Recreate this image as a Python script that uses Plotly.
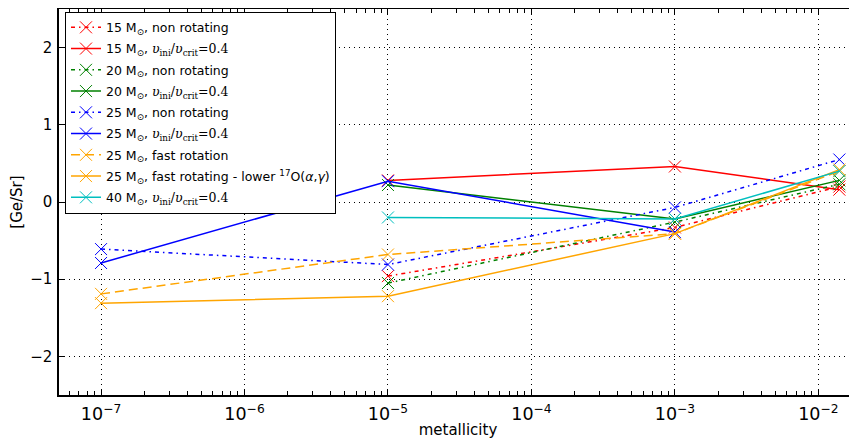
import plotly.graph_objects as go

# metallicities of the model grids
Z_all = [1e-7, 1e-5, 1e-3, 0.014]
Z_hi = [1e-5, 1e-3, 0.014]
Z_rot25 = [1e-7, 1e-5, 1e-3]

# [Ge/Sr] values
m15_nonrot = [-0.96, -0.33, 0.20]
m15_rot = [0.28, 0.46, 0.16]
m20_nonrot = [-1.05, -0.26, 0.23]
m20_rot = [0.22, -0.22, 0.28]
m25_nonrot = [-0.61, -0.81, -0.07, 0.55]
m25_rot = [-0.79, 0.27, -0.39]
m25_fast = [-1.19, -0.68, -0.41, 0.40]
m25_fast_low17O = [-1.31, -1.22, -0.41, 0.42]
m40_rot = [-0.20, -0.22, 0.40]

MS = "M<sub>⊙</sub>"
VV = ("<span style=\"font-family:'DejaVu Serif'\"><i>υ</i><sub>ini</sub>/"
      "<i>υ</i><sub>crit</sub>=0.4</span>")

DASHDOT = "4px,4px,1.5px,4px"
DASHED = "9px,5px"

series = [
    (f"15 {MS}, non rotating", Z_hi, m15_nonrot, "#ff0000", DASHDOT),
    (f"15 {MS}, {VV}", Z_hi, m15_rot, "#ff0000", "solid"),
    (f"20 {MS}, non rotating", Z_hi, m20_nonrot, "#008000", DASHDOT),
    (f"20 {MS}, {VV}", Z_hi, m20_rot, "#008000", "solid"),
    (f"25 {MS}, non rotating", Z_all, m25_nonrot, "#0000ff", DASHDOT),
    (f"25 {MS}, {VV}", Z_rot25, m25_rot, "#0000ff", "solid"),
    (f"25 {MS}, fast rotation", Z_all, m25_fast, "#ffa500", DASHED),
    (f"25 {MS}, fast rotating - lower <sup>17</sup>O(<i>α</i>,<i>γ</i>)", Z_all, m25_fast_low17O, "#ffa500", "solid"),
    (f"40 {MS}, {VV}", Z_hi, m40_rot, "#00bfbf", "solid"),
]

fig = go.Figure()
for i, (name, xs, ys, col, dash) in enumerate(series):
    fig.add_trace(go.Scatter(
        x=xs, y=ys, name=name, mode="lines+markers",
        line=dict(color=col, width=1.5, dash=dash),
        marker=dict(symbol="x-thin", size=12, line=dict(width=1, color=col), color=col),
        legendgroup=f"g{i}",
    ))

font = "DejaVu Sans"
# the page body has an 8px margin, so the figure is sized to fill the rest of the window
fig.update_layout(
    width=849, height=435,
    margin=dict(l=51, r=0, t=1, b=48),
    plot_bgcolor="white", paper_bgcolor="white",
    font=dict(family=font, size=14, color="black"),
    showlegend=True,
    legend=dict(
        x=0.0075, y=0.993, xanchor="left", yanchor="top",
        bgcolor="white", bordercolor="black", borderwidth=1,
        font=dict(family=font, size=12.5, color="black"),
        tracegroupgap=2,
    ),
    xaxis=dict(
        type="log", range=[-7.293, -1.731], automargin=False,
        dtick=1, exponentformat="power", showexponent="all",
        ticks="inside", ticklen=6, tickcolor="black",
        showline=True, linecolor="black", linewidth=1.5, mirror="ticks",
        showgrid=True, gridcolor="black", gridwidth=1, griddash="1px,4px",
        zeroline=False, ticklabelstandoff=3,
        minor=dict(ticks="inside", ticklen=4, tickcolor="black", showgrid=False, dtick="D1"),
        tickfont=dict(family=font, size=14),
        title=dict(text="metallicity", font=dict(family=font, size=15), standoff=1),
    ),
    yaxis=dict(
        range=[-2.5, 2.5], dtick=1, automargin=False,
        ticks="inside", ticklen=6, tickcolor="black",
        showline=True, linecolor="black", linewidth=1.5,
        showgrid=True, gridcolor="black", gridwidth=1, griddash="1px,4px",
        zeroline=False, ticklabelstandoff=2,
        tickfont=dict(family=font, size=15),
        title=dict(text="[Ge/Sr]", font=dict(family=font, size=15), standoff=8),
    ),
)

fig.write_html("out.html")
